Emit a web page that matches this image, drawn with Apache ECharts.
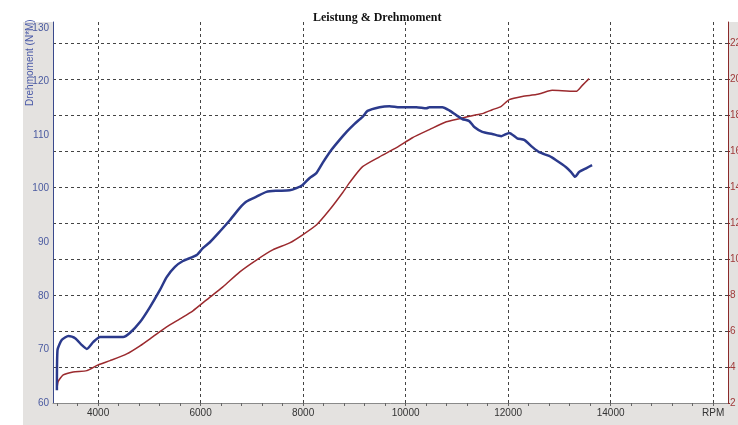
<!DOCTYPE html>
<html>
<head>
<meta charset="utf-8">
<script src="https://cdn.jsdelivr.net/npm/echarts@6/dist/echarts.min.js"></script>
<style>
  html, body { margin: 0; padding: 0; background: #fff; }
  #chart { width: 738px; height: 425px; }
</style>
</head>
<body>
<div id="chart"></div>
<script>
// Drehmoment (N*M), linke Achse
const torqueRpm = [3196, 3208, 3293, 3422, 3552, 3683, 3780, 3908, 4039, 4234, 4487, 4623, 4818,
  5012, 5207, 5338, 5499, 5655, 5922, 6044, 6181, 6375, 6570, 6765, 6895, 7090, 7285, 7479, 7738,
  7869, 7991, 8128, 8258, 8381, 8550, 8712, 8848, 9004, 9160, 9257, 9491, 9685, 9880, 10211, 10406,
  10464, 10717, 10853, 10990, 11107, 11242, 11340, 11496, 11691, 11866, 12022, 12177, 12314, 12469,
  12605, 12800, 12937, 13131, 13229, 13307, 13385, 13521, 13638];
const torque = [62.4, 69.9, 71.8, 72.5, 72.1, 70.8, 70.1, 71.4, 72.3, 72.3, 72.3, 73.1, 75.1,
  77.9, 81.1, 83.5, 85.4, 86.5, 87.6, 88.9, 90.0, 92.0, 94.1, 96.4, 97.6, 98.5, 99.4, 99.6, 99.7,
  100.1, 100.7, 102.0, 102.9, 104.8, 107.2, 109.1, 110.6, 112.1, 113.4, 114.5, 115.2, 115.4, 115.2, 115.2, 115.0,
  115.2, 115.2, 114.6, 113.7, 113.0, 112.6, 111.5, 110.6, 110.2, 109.8, 110.4, 109.4, 109.1, 107.8,
  106.8, 106.1, 105.3, 104.0, 103.1, 102.2, 103.1, 103.8, 104.4];

// Leistung, rechte Achse
const powerRpm = [3196, 3221, 3319, 3513, 3780, 4000, 4234, 4559, 4818, 5071, 5338, 5597, 5850,
  6116, 6434, 6765, 7096, 7407, 7738, 7991, 8264, 8517, 8770, 8906, 9160, 9491, 9822, 10133, 10464,
  10795, 11048, 11204, 11379, 11496, 11691, 11866, 12022, 12275, 12547, 12664, 12859, 13054, 13326,
  13443, 13580];
const power = [2.75, 3.2, 3.56, 3.73, 3.80, 4.12, 4.36, 4.73, 5.18, 5.69, 6.23, 6.68, 7.13,
  7.74, 8.46, 9.30, 9.97, 10.52, 10.91, 11.36, 11.92, 12.75, 13.70, 14.26, 15.15, 15.70, 16.21, 16.76, 17.21,
  17.65, 17.82, 17.93, 18.04, 18.10, 18.32, 18.51, 18.88, 19.06, 19.16, 19.25, 19.40, 19.38, 19.34,
  19.66, 20.05];

const xLabelValues = [4000, 6000, 8000, 10000, 12000, 14000, 16000];
const xMinorTicks = [];
for (let v = 3200; v <= 16000; v += 400) xMinorTicks.push(v);

const chart = echarts.init(document.getElementById('chart'));

const option = {
  animation: false,
  backgroundColor: 'transparent',
  title: {
    text: 'Leistung & Drehmoment',
    left: 308,
    top: 7,
    textStyle: {
      fontFamily: 'Liberation Serif',
      fontSize: 12,
      fontWeight: 'bold',
      color: '#111',
    },
  },
  graphic: [
    {
      type: 'rect',
      z: -10,
      shape: { x: 23, y: 22, width: 715, height: 403 },
      style: { fill: '#e4e2e0' },
    },
    {
      type: 'text',
      x: 25,
      y: 106,
      rotation: Math.PI / 2,
      style: {
        text: 'Drehmoment (N*M)',
        fill: '#4a5aa8',
        font: '10px "Liberation Sans"',
        textAlign: 'left',
        textVerticalAlign: 'top',
      },
    },
  ],
  grid: {
    left: 53,
    right: 10,
    top: 22,
    bottom: 22,
    outerBoundsMode: 'none',
    containLabel: false,
    show: true,
    backgroundColor: '#fff',
    borderWidth: 0,
  },
  xAxis: [
    {
      type: 'value',
      min: 3120,
      max: 16290,
      axisLine: { lineStyle: { color: '#8a8a8a', width: 1 } },
      axisTick: {
        show: true,
        customValues: xMinorTicks,
        length: 3,
        lineStyle: { color: '#666' },
      },
      axisLabel: {
        customValues: xLabelValues,
        color: '#333',
        fontFamily: 'Liberation Sans',
        fontSize: 10,
        margin: 5,
        formatter: (v) => (v === 16000 ? 'RPM' : String(v)),
      },
      splitLine: { show: false },
    },
    {
      type: 'value',
      min: 3120,
      max: 16290,
      position: 'bottom',
      axisLine: { show: false },
      axisTick: { show: false, customValues: xLabelValues },
      axisLabel: { show: false, customValues: xLabelValues },
      splitLine: {
        show: true,
        customValues: xLabelValues,
        lineStyle: { color: '#444', type: [3, 3], width: 1 },
      },
    },
  ],
  yAxis: [
    {
      type: 'value',
      position: 'left',
      min: 60,
      max: 131.1,
      interval: 10,
      axisLine: { show: true, lineStyle: { color: '#3a4a8c', width: 1 } },
      axisTick: { show: false },
      axisLabel: {
        color: '#4a5aa0',
        fontFamily: 'Liberation Sans',
        fontSize: 10,
        margin: 4,
        showMaxLabel: false,
      },
      splitLine: { show: false },
    },
    {
      type: 'value',
      position: 'right',
      min: 2,
      max: 23.2,
      interval: 2,
      axisLine: { show: true, lineStyle: { color: '#8b2a2a', width: 1 } },
      axisTick: { show: true, length: 2, lineStyle: { color: '#8b2a2a' } },
      axisLabel: {
        color: '#a03a3a',
        fontFamily: 'Liberation Sans',
        fontSize: 10,
        margin: 2,
        showMaxLabel: false,
      },
      splitLine: {
        show: true,
        showMinLine: false,
        showMaxLine: false,
        lineStyle: { color: '#444', type: [3, 3], width: 1 },
      },
    },
  ],
  series: [
    {
      name: 'Drehmoment',
      type: 'line',
      xAxisIndex: 0,
      yAxisIndex: 0,
      data: torqueRpm.map((r, i) => [r, torque[i]]),
      symbol: 'none',
      smooth: 0.2,
      lineStyle: { color: '#2b3a8c', width: 2.5 },
      z: 3,
    },
    {
      name: 'Leistung',
      type: 'line',
      xAxisIndex: 0,
      yAxisIndex: 1,
      data: powerRpm.map((r, i) => [r, power[i]]),
      symbol: 'none',
      smooth: 0.2,
      lineStyle: { color: '#9b2a2e', width: 1.5 },
      z: 2,
    },
  ],
};

chart.setOption(option);
</script>
</body>
</html>
